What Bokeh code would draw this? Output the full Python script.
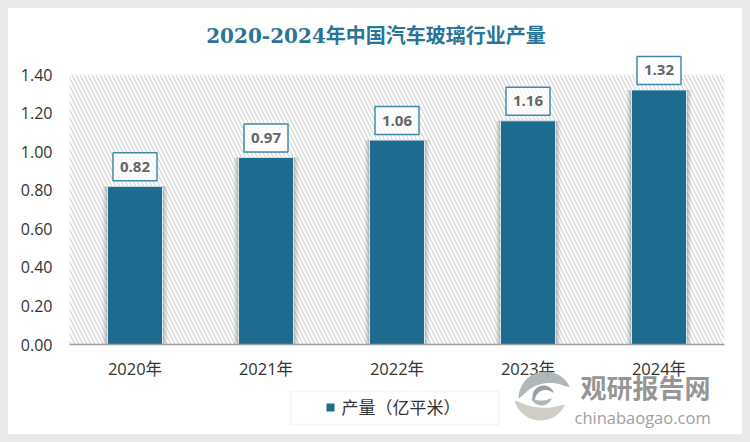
import math
from bokeh.embed import file_html
from bokeh.resources import INLINE
from bokeh.plotting import figure
from bokeh.models import (BoxAnnotation, ColumnDataSource, FixedTicker, Label,
                          NumeralTickFormatter, PolyAnnotation, Range1d)

years = ["2020年", "2021年", "2022年", "2023年", "2024年"]
output = [0.82, 0.97, 1.06, 1.16, 1.32]
value_labels = ["0.82", "0.97", "1.06", "1.16", "1.32"]
y_ticks = [0.0, 0.2, 0.4, 0.6, 0.8, 1.0, 1.2, 1.4]
title_text = "2020-2024年中国汽车玻璃行业产量"
series_name = "产量（亿平米）"

BLUE = "#1d6b8f"
BOX = "#3f8bab"
CJK = "Noto Sans CJK SC"
SANS = f"Open Sans, {CJK}"
W, H = 734, 426
positions = list(range(len(years)))

# The frame fills the whole card so that nothing outside the plot area gets clipped;
# the axes are pinned inside it with fixed_location.
PX_X, PX_Y = 131.0, 270 / 1.4          # pixels per category, pixels per unit
X0, Y0 = 126.5, 336.0                  # pixel position of the first category and of value 0
p = figure(width=W, height=H,
           x_range=Range1d(-X0 / PX_X, (W - X0) / PX_X), y_range=Range1d(-(H - Y0) / PX_Y, Y0 / PX_Y),
           output_backend="svg", toolbar_location=None, background_fill_color="white",
           border_fill_color="white", outline_line_color=None,
           min_border_left=0, min_border_right=0, min_border_top=0, min_border_bottom=0)
p.styles = {"margin": "8px", "box-shadow": "0 0 0 8px #e9e9e9"}
p.xgrid.visible = False
p.ygrid.visible = False

p.add_layout(BoxAnnotation(left=positions[0] - 0.5, right=positions[-1] + 0.5, bottom=y_ticks[0], top=y_ticks[-1],
                           fill_alpha=0, hatch_pattern="left_diagonal_line", hatch_color="#dadada",
                           hatch_scale=8, hatch_weight=1.4, line_color=None, level="underlay"))

source = ColumnDataSource(dict(x=positions, value=output))
for w, a in [(0.50, 0.06), (0.48, 0.09), (0.46, 0.12), (0.44, 0.16)]:
    p.vbar(x="x", top="value", width=w, source=source, fill_color="#555555",
           fill_alpha=a, line_color=None)
p.vbar(x="x", top="value", width=0.42, source=source, fill_color=BLUE, line_color="#d9e8ef", line_width=1)

for i, val, txt in zip(positions, output, value_labels):
    p.add_layout(Label(x=i, y=val, text=txt, y_offset=19.5, text_align="center", text_baseline="middle",
                       text_font="Open Sans", text_font_size="15px", text_font_style="bold",
                       text_color="#666666", padding=(7, 9), border_line_color=BOX, border_line_width=1.5,
                       background_fill_color="white", background_fill_alpha=0.75))

p.xaxis.fixed_location = y_ticks[0]
p.xaxis.bounds = (positions[0] - 0.5, positions[-1] + 0.5)
p.xaxis.ticker = FixedTicker(ticks=positions)
p.xaxis.major_label_overrides = dict(zip(positions, years))
p.xaxis.axis_line_color = "#a0a0a0"
p.xaxis.axis_line_width = 1.5
p.xaxis.major_tick_line_color = None
p.xaxis.minor_tick_line_color = None
p.xaxis.major_label_standoff = 6
p.xaxis.major_label_text_font = SANS
p.xaxis.major_label_text_font_size = "16.5px"
p.xaxis.major_label_text_color = "#333333"
p.yaxis.fixed_location = positions[0] - 0.5
p.yaxis.axis_line_color = None
p.yaxis.major_tick_line_color = None
p.yaxis.minor_tick_line_color = None
p.yaxis.major_label_standoff = 11
p.yaxis.major_label_text_font = SANS
p.yaxis.major_label_text_font_size = "16px"
p.yaxis.major_label_text_color = "#333333"
p.yaxis.ticker = FixedTicker(ticks=y_ticks)
p.yaxis.formatter = NumeralTickFormatter(format="0.00")


def screen_label(px, py, text, **kw):
    """Place a text at a reference-page pixel position."""
    p.add_layout(Label(x=px - 8, y=H - (py - 8), x_units="screen", y_units="screen", text=text,
                       text_baseline="middle", **kw))


def poly(pts, **kw):
    p.add_layout(PolyAnnotation(xs=[x - 8 for x, _ in pts], ys=[H - (y - 8) for _, y in pts],
                                xs_units="screen", ys_units="screen", **kw))


screen_label(375.5, 35, title_text, text_align="center", text_font=f"DejaVu Serif, {CJK}",
             text_font_size="20px", text_font_style="bold", text_color="#2a7597")

# legend
poly([(290, 391), (498, 391), (498, 424), (290, 424)], fill_color="white", fill_alpha=1,
     line_color="#d9d9d9", line_width=1.5)
poly([(326, 403), (334, 403), (334, 411), (326, 411)], fill_color=BLUE, fill_alpha=1, line_color=None)
screen_label(341, 407, series_name, text_align="left", text_font=SANS, text_font_size="17px",
             text_color="#333333")


def crescent(cx, cy, r_out, r_in, a0, a1, color, alpha=0.9):
    n = 24
    outer, inner = [], []
    for i in range(n + 1):
        t = i / n
        a = math.radians(a0 + (a1 - a0) * t)
        ri = r_out - (r_out - r_in) * math.sin(math.pi * t) ** 0.6
        outer.append((cx + r_out * math.cos(a), cy - r_out * math.sin(a)))
        inner.append((cx + ri * math.cos(a), cy - ri * math.sin(a)))
    poly(outer + inner[::-1], fill_color=color, fill_alpha=alpha, line_color=None)


crescent(545, 398, 27, 15, 180, 25, "#a9b0b3")
crescent(540, 393, 27, 14, 195, 335, "#cbc9bf")
crescent(543, 396, 11, 6, 20, 210, "#8e9699")
crescent(541, 394, 11, 6, 200, 340, "#a9b0b3")

screen_label(580, 386, "观研报告网", text_align="left", text_font=CJK, text_font_size="26px",
             text_font_style="bold", text_color="#8f8f8f", text_alpha=0.95)
screen_label(574, 417, "chinabaogao.com", text_align="left", text_font="Open Sans", text_font_size="16.5px",
             text_color="#a0a0a0")

open("out.html", "w").write(file_html(p, INLINE))
